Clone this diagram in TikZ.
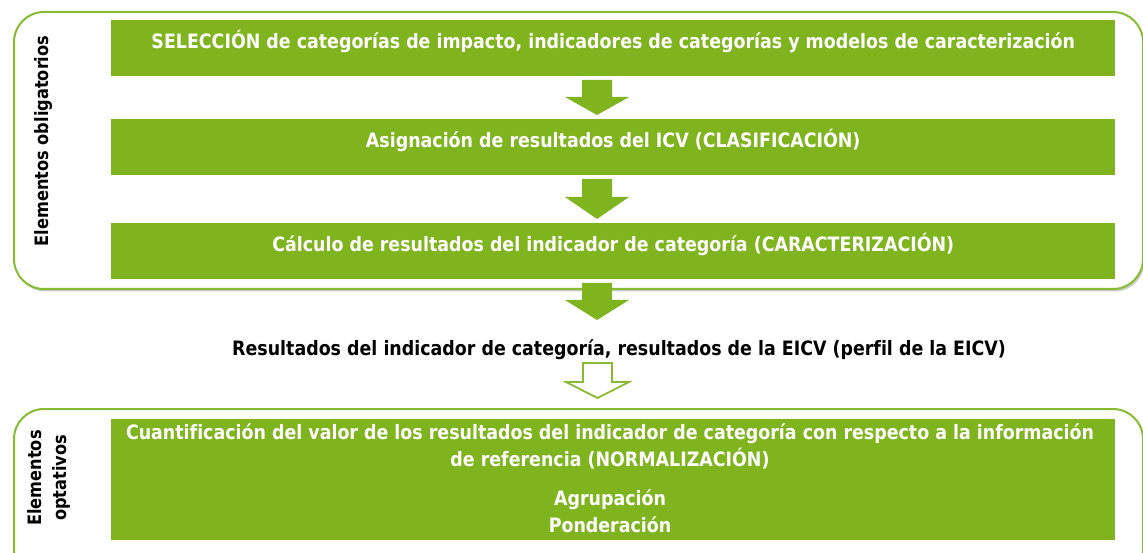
\documentclass[tikz,border=0pt]{standalone}
\usepackage{fontspec}
\setmainfont{DejaVu Sans}[FakeStretch=0.88,Ligatures=NoCommon]
\usetikzlibrary{shadows,calc}
\definecolor{lg}{RGB}{127,180,30}
\definecolor{lgb}{RGB}{135,188,50}
\begin{document}
\begin{tikzpicture}[x=1pt,y=-1pt,
  frame/.style={draw=lgb, line width=2pt, rounded corners=30pt, fill=white, anchor=north west, inner sep=0,
    drop shadow={shadow xshift=1.5pt, shadow yshift=-2.5pt, opacity=0.35, fill=black!60}},
  greenbox/.style={fill=lg, draw=none, minimum width=1004pt, minimum height=56pt, inner sep=0, anchor=north west},
  boxtext/.style={text=white, font=\bfseries\fontsize{19.8}{22}\selectfont, inner sep=0},
  blacktext/.style={text=black, font=\bfseries\fontsize{19.8}{22}\selectfont, inner sep=0},
  fullarrow/.style={fill=lg},
  hollowarrow/.style={draw=lgb, line width=1.8pt, fill=white, line join=miter}
]
\useasboundingbox (0,0) rectangle (1143,553);
% frames
\node (top) [frame, minimum width=1129pt, minimum height=277pt] at (13,11) {};
\node (bot) [frame, minimum width=1129pt, minimum height=170pt] at (13,408) {};
% green boxes
\node (b1) [greenbox] at (111,20) {};
\node (b2) [greenbox] at (111,119) {};
\node (b3) [greenbox] at (111,223) {};
\node (b4) [greenbox, minimum height=121pt] at (111,419) {};
% texts
\node (t1) [boxtext] at ($(b1.center)+(0,-7)$) {SELECCIÓN de categorías de impacto, indicadores de categorías y modelos de caracterización};
\node (t2) [boxtext] at ($(b2.center)+(0,-7)$) {Asignación de resultados del ICV (CLASIFICACIÓN)};
\node (t3) [boxtext] at ($(b3.center)+(0,-7)$) {Cálculo de resultados del indicador de categoría (CARACTERIZACIÓN)};
\node (t4) [boxtext, align=center, font=\bfseries\fontsize{19.8}{27}\selectfont] at (610,446.5) {Cuantificación del valor de los resultados del indicador de categoría con respecto a la información\\de referencia (NORMALIZACIÓN)};
\node (t5) [boxtext] at (610,500) {Agrupación};
\node (t6) [boxtext] at (610,525) {Ponderación};
\node (res) [blacktext] at (619,350) {Resultados del indicador de categoría, resultados de la EICV (perfil de la EICV)};
% side labels
\node (l1) [blacktext, rotate=90, font=\bfseries\fontsize{18.4}{22}\selectfont] at (43,141) {Elementos obligatorios};
\node (l2) [blacktext, rotate=90, align=center, font=\bfseries\fontsize{18.4}{24.5}\selectfont] at (49,478) {Elementos\\optativos};
% arrows
\fill[fullarrow] (582,80) -- (612,80) -- (612,97) -- (629,97) -- (597,115) -- (565,97) -- (582,97) -- cycle;
\fill[fullarrow] (582,179) -- (612,179) -- (612,197) -- (629,197) -- (597,219) -- (565,197) -- (582,197) -- cycle;
\fill[fullarrow] (582,283) -- (612,283) -- (612,300) -- (629,300) -- (597,320) -- (565,300) -- (582,300) -- cycle;
\draw[hollowarrow] (583,363) -- (612,363) -- (612,382) -- (629,382) -- (597.5,398) -- (566,382) -- (583,382) -- cycle;
\end{tikzpicture}
\end{document}
